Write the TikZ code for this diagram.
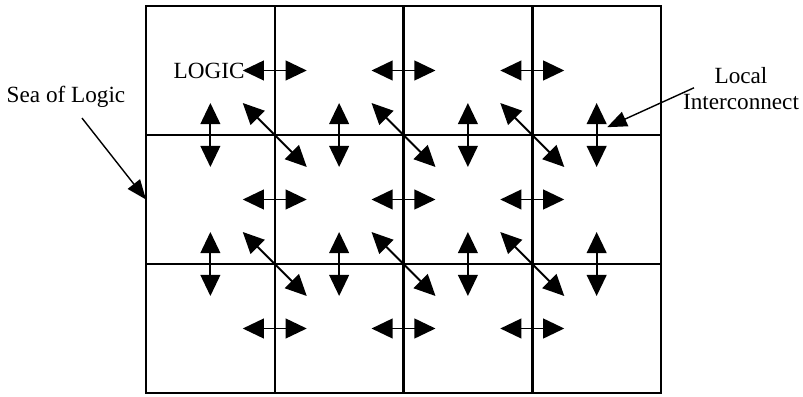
\documentclass[tikz,border=0pt]{standalone}
\usepackage{fontspec}
\setmainfont{Liberation Serif}
\usetikzlibrary{arrows.meta}

\begin{document}
\begin{tikzpicture}[
    blockline/.style={line width=1.8pt},
    link/.style={line width=1.4pt,{Triangle[length=15pt,width=14pt]}-{Triangle[length=15pt,width=14pt]}},
    pointer/.style={line width=1pt,-{Triangle[length=14pt,width=11pt]}},
    lbl/.style={font=\fontsize{16.5}{18.5}\selectfont,inner sep=0pt}
]
\useasboundingbox (0,0) rectangle (20.075,9.9);

% logic blocks
\draw[blockline] (3.65,0.075) rectangle (16.525,9.75);
\foreach \i in {1,2,3}
    \draw[blockline] (3.65+3.219*\i,0.075) -- (3.65+3.219*\i,9.75);
\foreach \j in {1,2}
    \draw[blockline] (3.65,0.075+3.225*\j) -- (16.525,0.075+3.225*\j);

% local interconnect
\foreach \i in {1,2,3}
    \foreach \j in {0,1,2}
        \draw[link] (3.65+3.219*\i-0.8,1.6875+3.225*\j) -- ++(1.6,0);
\foreach \i in {0,1,2,3}
    \foreach \j in {1,2}
        \draw[link] (5.2595+3.219*\i,0.075+3.225*\j+0.8) -- ++(0,-1.6);
\foreach \i in {1,2,3}
    \foreach \j in {1,2}
        \draw[link] (3.65+3.219*\i-0.8,0.075+3.225*\j+0.8) -- ++(1.6,-1.6);

\node[lbl,anchor=east] (logic) at (6.12,8.1375) {LOGIC};

\node[lbl,anchor=base] (sea) at (1.65,7.33) {Sea of Logic};
\coordinate (sea-hit) at (3.65,4.9125);
\draw[pointer] ([shift={(0.4,-0.25)}]sea.south) -- (sea-hit);

\node[lbl,align=center] (local) at (18.525,7.675) {Local\\Interconnect};
\coordinate (local-hit) at (15.18,6.72);
\draw[pointer] ([shift={(0.28,0.03)}]local.west) -- (local-hit);
\end{tikzpicture}
\end{document}
